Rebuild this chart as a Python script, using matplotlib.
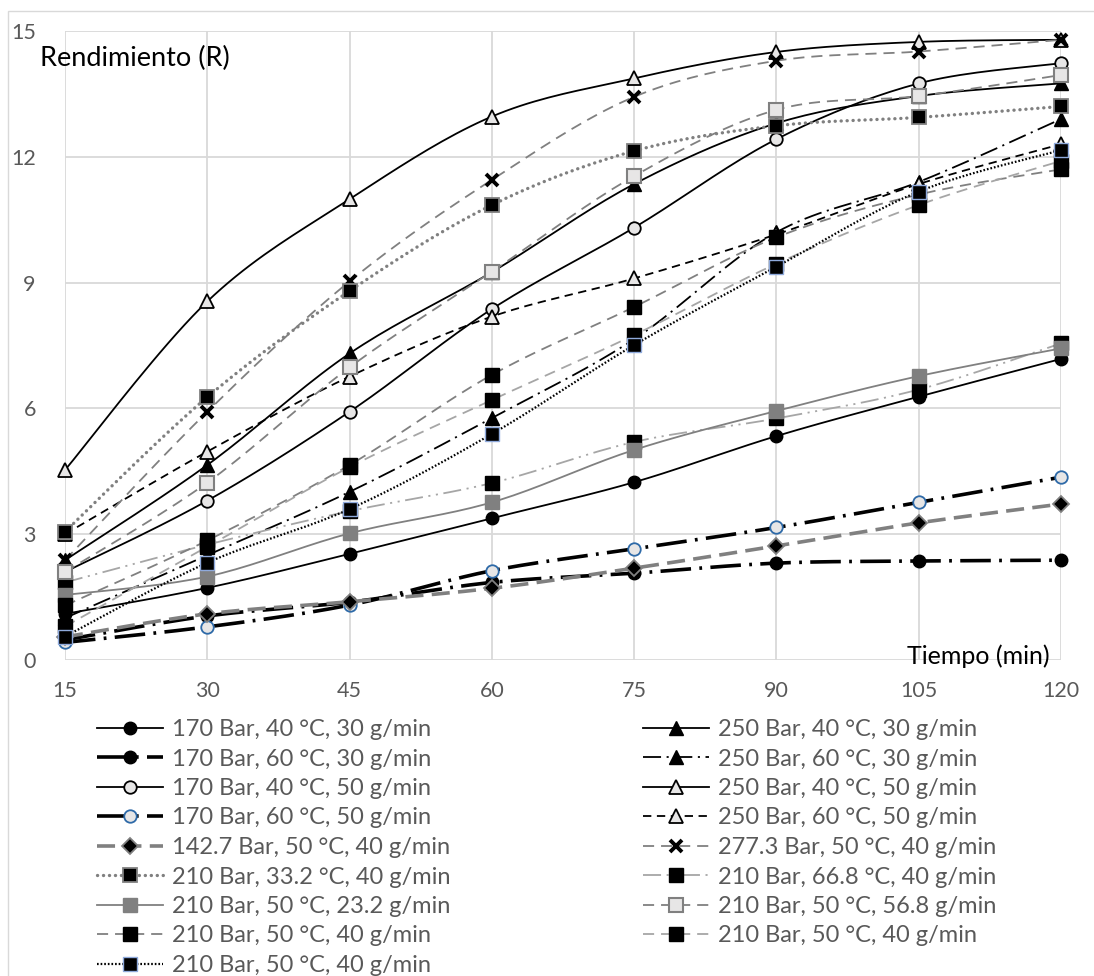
import numpy as np
import matplotlib
matplotlib.use("Agg")
import matplotlib.pyplot as plt
from matplotlib.patches import Rectangle

plt.rcParams['font.family'] = ['Lato', 'DejaVu Sans']
plt.rcParams['lines.scale_dashes'] = False

# ---------------- data ----------------
tiempo = [15, 30, 45, 60, 75, 90, 105, 120]
x_ticks = [15, 30, 45, 60, 75, 90, 105, 120]
y_ticks = [0, 3, 6, 9, 12, 15]

labels = [
    "170 Bar, 40 °C, 30 g/min",
    "250 Bar, 40 °C, 30 g/min",
    "170 Bar, 60 °C, 30 g/min",
    "250 Bar, 60 °C, 30 g/min",
    "170 Bar, 40 °C, 50 g/min",
    "250 Bar, 40 °C, 50 g/min",
    "170 Bar, 60 °C, 50 g/min",
    "250 Bar, 60 °C, 50 g/min",
    "142.7 Bar, 50 °C, 40 g/min",
    "277.3 Bar, 50 °C, 40 g/min",
    "210 Bar, 33.2 °C, 40 g/min",
    "210 Bar, 66.8 °C, 40 g/min",
    "210 Bar, 50 °C, 23.2 g/min",
    "210 Bar, 50 °C, 56.8 g/min",
    "210 Bar, 50 °C, 40 g/min",
    "210 Bar, 50 °C, 40 g/min",
    "210 Bar, 50 °C, 40 g/min",
]

r_170_40_30 = [1.10, 1.72, 2.53, 3.38, 4.24, 5.34, 6.28, 7.18]
r_250_40_30 = [2.38, 4.65, 7.31, 9.25, 11.35, 12.80, 13.45, 13.75]
r_170_60_30 = [0.48, 1.05, 1.38, 1.85, 2.07, 2.31, 2.36, 2.38]
r_250_60_30 = [1.00, 2.50, 4.01, 5.77, 7.65, 10.20, 11.40, 12.90]
r_170_40_50 = [2.10, 3.80, 5.92, 8.37, 10.31, 12.42, 13.75, 14.23]
r_250_40_50 = [4.53, 8.55, 10.99, 12.96, 13.87, 14.50, 14.74, 14.79]
r_170_60_50 = [0.42, 0.79, 1.31, 2.13, 2.65, 3.16, 3.76, 4.36]
r_250_60_50 = [3.00, 4.97, 6.76, 8.19, 9.10, 10.15, 11.35, 12.30]
r_142_50_40 = [0.55, 1.10, 1.39, 1.71, 2.19, 2.72, 3.27, 3.72]
r_277_50_40 = [2.38, 5.92, 9.03, 11.45, 13.43, 14.29, 14.51, 14.79]
r_210_33_40 = [3.06, 6.27, 8.80, 10.85, 12.14, 12.74, 12.94, 13.20]
r_210_66_40 = [1.85, 2.75, 3.55, 4.22, 5.20, 5.76, 6.45, 7.55]
r_210_50_23 = [1.55, 1.99, 3.02, 3.76, 5.01, 5.94, 6.77, 7.43]
r_210_50_56 = [2.10, 4.23, 6.98, 9.26, 11.54, 13.12, 13.45, 13.95]
r_210_50_40a = [1.30, 2.85, 4.65, 6.80, 8.42, 10.08, 11.10, 11.70]
r_210_50_40b = [0.80, 2.70, 4.60, 6.20, 7.75, 9.45, 10.85, 11.90]
r_210_50_40c = [0.56, 2.32, 3.60, 5.39, 7.51, 9.38, 11.17, 12.16]

series = [r_170_40_30, r_250_40_30, r_170_60_30, r_250_60_30, r_170_40_50,
          r_250_40_50, r_170_60_50, r_250_60_50, r_142_50_40, r_277_50_40,
          r_210_33_40, r_210_66_40, r_210_50_23, r_210_50_56, r_210_50_40a,
          r_210_50_40b, r_210_50_40c]

# ---------------- styles ----------------
LG = '#e7e6e6'
G = '#808080'
LGR = '#a6a6a6'
BLUE = '#2e6aa8'
BLUE2 = '#8faadc'
styles = [
    dict(color='k', lw=1.3, ls='-', marker='o', ms=9, mfc='k', mec='k'),
    dict(color='k', lw=1.3, ls='-', marker='^', ms=10, mfc='k', mec='k'),
    dict(color='k', lw=2.6, ls=(0, (22, 6, 2, 6)), marker='o', ms=9, mfc='k', mec='k'),
    dict(color='k', lw=1.3, ls=(0, (13, 4, 1.5, 4)), marker='^', ms=10, mfc='k', mec='k'),
    dict(color='k', lw=1.3, ls='-', marker='o', ms=9, mfc=LG, mec='k', mew=1.3),
    dict(color='k', lw=1.3, ls='-', marker='^', ms=10, mfc=LG, mec='k', mew=1.3),
    dict(color='k', lw=2.6, ls=(0, (22, 6, 2, 6)), marker='o', ms=9, mfc=LG, mec=BLUE, mew=1.3),
    dict(color='k', lw=1.3, ls=(0, (6, 4)), marker='^', ms=10, mfc=LG, mec='k', mew=1.3),
    dict(color=G, lw=2.6, ls=(0, (13, 6)), marker='D', ms=8, mfc='k', mec=G, mew=1.3),
    dict(color=G, lw=1.3, ls=(0, (8, 5)), marker='x', ms=9, mfc='k', mec='k', mew=2.8),
    dict(color=G, lw=2.4, ls=(0, (0.1, 4.2)), marker='s', ms=9.5, mfc='k', mec=G, mew=1.3,
         dash_capstyle='round'),
    dict(color=LGR, lw=1.3, ls=(0, (13, 4, 1.5, 4, 1.5, 4)), marker='s', ms=10, mfc='k', mec='k'),
    dict(color=G, lw=1.3, ls='-', marker='s', ms=10, mfc=G, mec=G),
    dict(color=G, lw=1.3, ls=(0, (8, 5)), marker='s', ms=9.5, mfc=LG, mec=G, mew=1.5),
    dict(color=G, lw=1.3, ls=(0, (8, 5)), marker='s', ms=10, mfc='k', mec='k'),
    dict(color=LGR, lw=1.3, ls=(0, (8, 5)), marker='s', ms=10, mfc='k', mec='k'),
    dict(color='k', lw=1.6, ls=(0, (1.2, 1.4)), marker='s', ms=9.5, mfc='k', mec=BLUE2, mew=1.0),
]


def smooth(x, y, n=20):
    # Excel-like smoothed line (Catmull-Rom Bezier)
    x = np.asarray(x, float)
    y = np.asarray(y, float)
    P = np.column_stack([x, y])
    P = np.vstack([P[0], P, P[-1]])
    out = []
    for i in range(1, len(P) - 2):
        p0, p1, p2, p3 = P[i - 1], P[i], P[i + 1], P[i + 2]
        c1 = p1 + (p2 - p0) / 6.0
        c2 = p2 - (p3 - p1) / 6.0
        t = np.linspace(0, 1, n, endpoint=(i == len(P) - 3))[:, None]
        b = ((1 - t) ** 3) * p1 + 3 * ((1 - t) ** 2) * t * c1 + 3 * (1 - t) * t ** 2 * c2 + t ** 3 * p2
        out.append(b)
    out = np.vstack(out)
    return out[:, 0], out[:, 1]


W, H = 1094, 976
fig = plt.figure(figsize=(W / 100, H / 100), dpi=100)
fig.patches.append(Rectangle((8 / W, -0.05), 1.2, 1.05 - 11.5 / H, transform=fig.transFigure,
                             fill=False, edgecolor='#d9d9d9', lw=1.0))

ax = fig.add_axes([65 / W, 1 - 660 / H, (1061 - 65) / W, (660 - 31) / H])
ax.set_xlim(15, 120)
ax.set_ylim(0, 15)
ax.set_xticks(x_ticks)
ax.set_yticks(y_ticks)
ax.grid(True, color='#d9d9d9', lw=1.3)
ax.set_axisbelow(True)
for s in ax.spines.values():
    s.set_visible(False)
ax.tick_params(length=0, labelsize=15.5, labelcolor='#595959')
ax.tick_params(axis='x', pad=15)
ax.tick_params(axis='y', pad=21)

handles = []
for i, (yv, st) in enumerate(zip(series, styles)):
    st = dict(st)
    marker_kw = {k: st.pop(k) for k in ['marker', 'ms', 'mfc', 'mec', 'mew'] if k in st}
    capk = {}
    if 'dash_capstyle' in st:
        capk['dash_capstyle'] = st.pop('dash_capstyle')
    xs, ys = smooth(tiempo, yv)
    ax.plot(xs, ys, color=st['color'], lw=st['lw'], ls=st['ls'], zorder=2 + i, clip_on=False, **capk)
    ax.plot(tiempo, yv, ls='none', marker=marker_kw['marker'], ms=marker_kw['ms'],
            mfc=marker_kw['mfc'], mec=marker_kw['mec'], mew=marker_kw.get('mew', 1.0),
            zorder=2.5 + i, clip_on=False)
    h, = ax.plot([], [], color=st['color'], lw=st['lw'], ls=st['ls'], marker=marker_kw['marker'],
                 ms=marker_kw['ms'], mfc=marker_kw['mfc'], mec=marker_kw['mec'],
                 mew=marker_kw.get('mew', 1.0), **capk)
    handles.append(h)

fig.text(40 / W, 1 - 58 / H, "Rendimiento (R)", fontsize=19.5, color='#000000', ha='left', va='center')
fig.text(1050 / W, 1 - 656 / H, "Tiempo (min)", fontsize=18, color='#000000', ha='right', va='center')

left_idx = [0, 2, 4, 6, 8, 10, 12, 14, 16]
right_idx = [1, 3, 5, 7, 9, 11, 13, 15]
FS = 17
fs_px = FS * 100 / 72
leg_kw = dict(frameon=False, fontsize=FS, handlelength=66 / fs_px, handletextpad=9 / fs_px,
              labelspacing=0.36, borderpad=0, borderaxespad=0, labelcolor='#595959')
leg1 = fig.legend([handles[i] for i in left_idx], [labels[i] for i in left_idx],
                  loc='upper left', bbox_to_anchor=(97 / W, 1 - 719 / H), **leg_kw)
leg2 = fig.legend([handles[i] for i in right_idx], [labels[i] for i in right_idx],
                  loc='upper left', bbox_to_anchor=(643 / W, 1 - 719 / H), **leg_kw)

fig.savefig("out.png", dpi=100)
